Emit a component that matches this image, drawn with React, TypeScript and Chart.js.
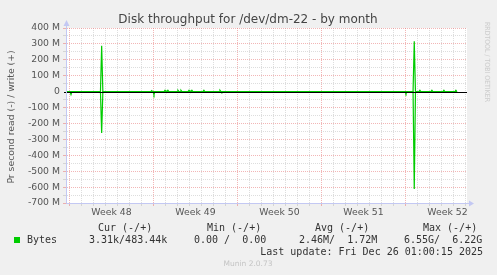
import React, { useEffect, useRef } from 'react';
import { Chart, registerables } from 'chart.js';

Chart.register(...registerables);

// ---- text ----
const TITLE = 'Disk throughput for /dev/dm-22 - by month';
const Y_TITLE = 'Pr second read (-) / write (+)';
const SIDE_TEXT = 'RRDTOOL / TOBI OETIKER';
const FOOTER = 'Munin 2.0.73';
const LAST_UPDATE = 'Last update: Fri Dec 26 01:00:15 2025';
const SERIES_NAME = 'Bytes';
const LEGEND_HEADERS = ['Cur (-/+)', 'Min (-/+)', 'Avg (-/+)', 'Max (-/+)'];
const LEGEND_VALUES = ['3.31k/483.44k', '0.00 /  0.00', '2.46M/  1.72M', '6.55G/  6.22G'];

// ---- x axis (days since Monday of week 48) ----
const WEEK_LABELS = ['Week 48', 'Week 49', 'Week 50', 'Week 51', 'Week 52'];
const WEEK_START_DAYS = [0, 7, 14, 21, 28];
const DAY_LINES = [0, 1, 2, 3, 4, 5, 6, 7, 8, 9, 10, 11, 12, 13, 14, 15, 16, 17, 18, 19, 20, 21, 22, 23, 24, 25, 26, 27, 28, 29, 30, 31, 32, 33];
const WEEK_LABEL_DAYS = [3.5, 10.5, 17.5, 24.5, 31.5];
const X_MIN = -0.2083;
const X_MAX = 33.125;

// ---- y axis (MB/s) ----
const Y_MIN = -700;
const Y_MAX = 400;
const Y_STEP = 50;

// ---- series: write (+), in M ----
const writeDays = [
  -0.2,
  2.58, 2.68, 2.78,
  6.77, 6.85, 6.93,
  7.88, 7.96, 8.04,
  8.12, 8.2, 8.28,
  8.96, 9.04, 9.12,
  9.21, 9.29, 9.37,
  9.88, 9.96, 10.04,
  10.12, 10.2, 10.28,
  11.12, 11.2, 11.28,
  12.46, 12.54, 12.62,
  28.63, 28.73, 28.83,
  29.12, 29.2, 29.28,
  30.12, 30.2, 30.28,
  31.12, 31.2, 31.28,
  32.12, 32.2, 32.28,
  32.3,
];
const writeM = [
  0,
  0, 289, 0,
  0, 6, 0,
  0, 8, 0,
  0, 8, 0,
  0, 8, 0,
  0, 8, 0,
  0, 8, 0,
  0, 8, 0,
  0, 8, 0,
  0, 8, 0,
  0, 316, 0,
  0, 8, 0,
  0, 8, 0,
  0, 8, 0,
  0, 8, 0,
  0,
];

// ---- series: read (-), in M ----
const readDays = [
  -0.2,
  0.04, 0.125, 0.21,
  2.58, 2.68, 2.78,
  6.96, 7.04, 7.12,
  12.62, 12.7, 12.78,
  27.96, 28.04, 28.12,
  28.63, 28.73, 28.83,
  32.3,
];
const readM = [
  0,
  0, -19, 0,
  0, -260, 0,
  0, -19, 0,
  0, -8, 0,
  0, -13, 0,
  0, -612, 0,
  0,
];

const GREEN = '#00cc00';
const MAJOR = 'rgba(230,110,110,0.5)';
const MINOR = 'rgba(165,165,165,0.38)';
const AXIS = '#c3c8f3';
const TICK_FONT = { family: 'DejaVu Sans', size: 9.3 };

const W = 497;
const H = 275;

const bgPlugin = {
  id: 'muninBg',
  beforeDraw(chart: any) {
    const { ctx, chartArea } = chart;
    ctx.save();
    ctx.fillStyle = '#f0f0f0';
    ctx.fillRect(0, 0, W, H);
    ctx.fillStyle = '#ffffff';
    ctx.fillRect(chartArea.left, chartArea.top, chartArea.right - chartArea.left, chartArea.bottom - chartArea.top);
    ctx.restore();
  },
};

const axisPlugin = {
  id: 'muninAxis',
  afterDatasetsDraw(chart: any) {
    const { ctx, chartArea } = chart;
    const y0 = Math.round(chart.scales.y.getPixelForValue(0)) + 0.5;
    ctx.save();
    ctx.strokeStyle = '#000000';
    ctx.lineWidth = 1;
    ctx.beginPath();
    ctx.moveTo(chartArea.left - 3, y0);
    ctx.lineTo(chartArea.right, y0);
    ctx.stroke();

    const ax = chartArea.left - 0.5;
    const ay = chartArea.bottom + 0.5;
    ctx.strokeStyle = AXIS;
    ctx.fillStyle = AXIS;
    ctx.beginPath();
    ctx.moveTo(ax, ay);
    ctx.lineTo(ax, chartArea.top - 3);
    ctx.moveTo(ax, ay);
    ctx.lineTo(chartArea.right + 2, ay);
    ctx.stroke();
    ctx.beginPath();
    ctx.moveTo(ax, chartArea.top - 8);
    ctx.lineTo(ax - 3, chartArea.top - 2);
    ctx.lineTo(ax + 3, chartArea.top - 2);
    ctx.closePath();
    ctx.fill();
    ctx.beginPath();
    ctx.moveTo(chartArea.right + 7, ay);
    ctx.lineTo(chartArea.right + 2, ay - 3);
    ctx.lineTo(chartArea.right + 2, ay + 3);
    ctx.closePath();
    ctx.fill();
    ctx.restore();
  },
};

const textPlugin = {
  id: 'muninText',
  afterDraw(chart: any) {
    const { ctx } = chart;
    ctx.save();
    ctx.textBaseline = 'alphabetic';
    // title
    ctx.fillStyle = '#444';
    ctx.font = '12px "DejaVu Sans"';
    ctx.textAlign = 'center';
    ctx.fillText(TITLE, 248, 23);
    // y title
    ctx.save();
    ctx.translate(13.5, 117);
    ctx.rotate(-Math.PI / 2);
    ctx.fillStyle = '#555';
    ctx.font = '9.3px "DejaVu Sans"';
    ctx.textAlign = 'center';
    ctx.fillText(Y_TITLE, 0, 0);
    ctx.restore();
    // side text
    ctx.save();
    ctx.translate(485, 22);
    ctx.rotate(Math.PI / 2);
    ctx.fillStyle = '#cccccc';
    ctx.font = '7px "DejaVu Sans"';
    ctx.textAlign = 'left';
    ctx.fillText(SIDE_TEXT, 0, 0, 80);
    ctx.restore();
    // legend
    ctx.font = '10px "DejaVu Sans Mono"';
    ctx.fillStyle = '#333';
    ctx.textAlign = 'left';
    const headerX = [98, 207, 315, 423];
    LEGEND_HEADERS.forEach((t, i) => ctx.fillText(t, headerX[i], 231));
    const valX = [89, 194, 299, 404];
    ctx.fillText(SERIES_NAME, 27, 243);
    LEGEND_VALUES.forEach((t, i) => ctx.fillText(t, valX[i], 243));
    ctx.fillStyle = GREEN;
    ctx.fillRect(14, 237, 6, 6);
    ctx.fillStyle = '#333';
    ctx.textAlign = 'right';
    ctx.fillText(LAST_UPDATE, 483, 255);
    // footer
    ctx.textAlign = 'center';
    ctx.fillStyle = '#c4c4c4';
    ctx.font = '7.5px "DejaVu Sans"';
    ctx.fillText(FOOTER, 248, 266);
    ctx.restore();
  },
};

const isWeekStart = (v: number) => WEEK_START_DAYS.includes(v);
const isDayLine = (v: number) => DAY_LINES.includes(v);

export default function App() {
  const ref = useRef<HTMLCanvasElement>(null);
  useEffect(() => {
    const canvas = ref.current!;
    const chart = new Chart(canvas, {
      type: 'line',
      data: {
        datasets: [
          {
            label: 'write',
            data: writeDays.map((x, i) => ({ x, y: writeM[i] })),
            borderColor: GREEN,
            borderWidth: 1.2,
            pointRadius: 0,
            fill: false,
            tension: 0,
          },
          {
            label: 'read',
            data: readDays.map((x, i) => ({ x, y: readM[i] })),
            borderColor: GREEN,
            borderWidth: 1.2,
            pointRadius: 0,
            fill: false,
            tension: 0,
          },
        ],
      },
      options: {
        responsive: false,
        animation: false,
        devicePixelRatio: 1,
        layout: { padding: { left: 0, top: 28, right: 30, bottom: 0 } },
        plugins: {
          legend: { display: false },
          title: { display: false },
          tooltip: { enabled: false },
        },
        scales: {
          x: {
            type: 'linear',
            min: X_MIN,
            max: X_MAX,
            afterFit: (s: any) => {
              s.height = 72;
            },
            afterBuildTicks: (s: any) => {
              const vals = [...DAY_LINES, ...WEEK_LABEL_DAYS].sort((a, b) => a - b);
              s.ticks = vals.map((v) => ({ value: v }));
            },
            ticks: {
              autoSkip: false,
              maxRotation: 0,
              minRotation: 0,
              padding: 1,
              color: '#555',
              font: TICK_FONT,
              callback: (v: any) => {
                const i = WEEK_LABEL_DAYS.indexOf(Number(v));
                return i >= 0 ? WEEK_LABELS[i] : '';
              },
            },
            grid: {
              tickLength: 3,
              color: (c: any) => {
                const v = c.tick ? c.tick.value : NaN;
                if (isWeekStart(v)) return MAJOR;
                if (isDayLine(v)) return MINOR;
                return 'rgba(0,0,0,0)';
              },
            },
            border: { display: false, dash: [1, 1] },
          },
          y: {
            type: 'linear',
            min: Y_MIN,
            max: Y_MAX,
            afterFit: (s: any) => {
              s.width = 67;
            },
            ticks: {
              stepSize: Y_STEP,
              autoSkip: false,
              padding: 3,
              color: '#555',
              font: TICK_FONT,
              callback: (v: any) => {
                const n = Number(v);
                if (n % 100 !== 0) return '';
                return n === 0 ? '0' : `${n} M`;
              },
            },
            grid: {
              tickLength: 4,
              color: (c: any) => {
                const v = c.tick ? c.tick.value : NaN;
                if (v === 0) return 'rgba(0,0,0,0)';
                if (v % 100 === 0) return MAJOR;
                return MINOR;
              },
            },
            border: { display: false, dash: [1, 1] },
          },
        },
      } as any,
      plugins: [bgPlugin, axisPlugin, textPlugin],
    });
    return () => chart.destroy();
  }, []);

  return (
    <div style={{ position: 'fixed', left: 0, top: 0, width: W, height: H, background: '#f0f0f0' }}>
      <canvas ref={ref} width={W} height={H} style={{ display: 'block', width: W, height: H }} />
    </div>
  );
}
